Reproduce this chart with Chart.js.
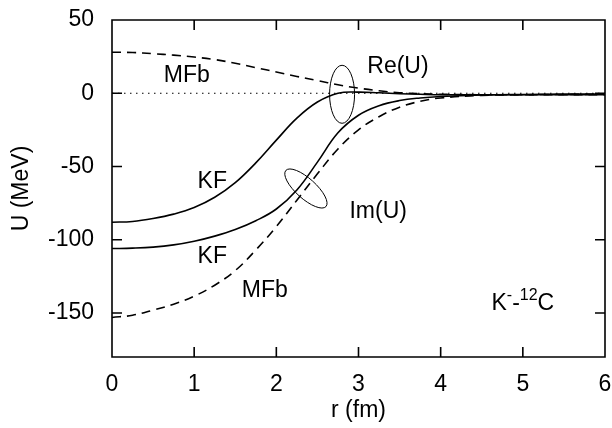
<!DOCTYPE html>
<html>
<head>
<meta charset="utf-8">
<script src="https://cdn.jsdelivr.net/npm/chart.js@4.4.1/dist/chart.umd.min.js"></script>
<style>
  html, body { margin: 0; padding: 0; background: #fff; }
  #wrap { width: 612px; height: 428px; }
</style>
</head>
<body>
<div id="wrap"><canvas id="chart" width="612" height="428"></canvas></div>
<script>
  // radius grid (fm) shared by all curves
  const rValues = [0, 0.25, 0.5, 0.75, 1, 1.25, 1.5, 1.75, 2, 2.25, 2.5, 2.75, 3, 3.25, 3.5, 3.75, 4, 4.5, 5, 5.5, 6];

  // potentials in MeV
  const kfRe = [-88, -87.5, -85.5, -82.5, -78, -71, -61, -47.5, -32, -17, -6, 0, 0.8, 0.3, -0.3, -0.7, -1, -1, -1, -1, -1];
  const kfIm = [-106, -105.7, -105, -103.5, -101, -97.5, -93, -87, -79, -66, -47, -27, -15, -8.5, -5, -3.2, -2.2, -1.2, -0.8, -0.6, -0.5];
  const mfbRe = [28, 27.8, 27, 26, 24.7, 23, 20.5, 17.5, 14.5, 11.5, 8.7, 5.8, 3.5, 1.7, 0.4, -0.3, -0.7, -1, -1, -1, -1];
  const mfbIm = [-153, -151.5, -148, -144, -138.5, -131, -121, -107, -91, -73, -55, -38, -25, -16, -9.5, -5.5, -3.2, -1.5, -1, -0.8, -0.7];

  const zeroR = [0, 6];
  const zeroU = [0, 0];

  const xTicks = [0, 1, 2, 3, 4, 5, 6];
  const yTicks = [-150, -100, -50, 0, 50];

  const FONT = "'Liberation Sans', Arial, Helvetica, sans-serif";

  // text labels placed in data coordinates (r, U)
  const curveLabels = [
    { text: "MFb", r: 0.91, u: 12 },
    { text: "KF", r: 1.22, u: -60.5 },
    { text: "KF", r: 1.22, u: -111.5 },
    { text: "MFb", r: 1.86, u: -135 },
    { text: "Re(U)", r: 3.48, u: 18 },
    { text: "Im(U)", r: 3.24, u: -81 }
  ];

  const rings = [
    { r: 2.8, u: -0.7, rx: 12.5, ry: 29, angle: 0 },
    { r: 2.36, u: -65, rx: 27, ry: 10, angle: 42 }
  ];

  const toPoints = (xs, ys) => xs.map((x, i) => ({ x, y: ys[i] }));

  const framePlugin = {
    id: "framePlugin",
    afterDatasetsDraw(chart) {
      const { ctx, chartArea: a, scales } = chart;
      const x = scales.x;
      const y = scales.y;
      const tick = 10;
      ctx.save();
      ctx.setLineDash([]);
      ctx.globalAlpha = 1;
      ctx.strokeStyle = "#000000";
      ctx.lineWidth = 1.6;
      ctx.beginPath();
      ctx.rect(a.left, a.top, a.right - a.left, a.bottom - a.top);
      xTicks.forEach((v) => {
        const px = x.getPixelForValue(v);
        ctx.moveTo(px, a.bottom);
        ctx.lineTo(px, a.bottom - tick);
        ctx.moveTo(px, a.top);
        ctx.lineTo(px, a.top + tick);
      });
      yTicks.forEach((v) => {
        const py = y.getPixelForValue(v);
        ctx.moveTo(a.left, py);
        ctx.lineTo(a.left + tick, py);
        ctx.moveTo(a.right, py);
        ctx.lineTo(a.right - tick, py);
      });
      ctx.stroke();
      ctx.restore();
    },
    afterDraw(chart) {
      const { ctx, scales } = chart;
      const x = scales.x;
      const y = scales.y;
      ctx.save();
      ctx.setLineDash([]);
      ctx.strokeStyle = "#000";

      // ellipses marking the Re / Im groups
      ctx.lineWidth = 1;
      rings.forEach((e) => {
        ctx.beginPath();
        ctx.ellipse(x.getPixelForValue(e.r), y.getPixelForValue(e.u), e.rx, e.ry, (e.angle * Math.PI) / 180, 0, Math.PI * 2);
        ctx.stroke();
      });

      // curve labels
      ctx.fillStyle = "#000";
      ctx.textAlign = "center";
      ctx.textBaseline = "middle";
      ctx.font = "23px " + FONT;
      curveLabels.forEach((l) => {
        ctx.fillText(l.text, x.getPixelForValue(l.r), y.getPixelForValue(l.u));
      });

      // K^- - ^12 C
      const parts = [
        { t: "K", sup: false },
        { t: "-", sup: true },
        { t: "-", sup: false },
        { t: "12", sup: true },
        { t: "C", sup: false }
      ];
      const big = "23px " + FONT;
      const small = "16px " + FONT;
      let total = 0;
      parts.forEach((p) => {
        ctx.font = p.sup ? small : big;
        p.w = ctx.measureText(p.t).width;
        total += p.w;
      });
      let cx = x.getPixelForValue(5.0) - total / 2;
      const base = y.getPixelForValue(-142) + 9;
      ctx.textAlign = "left";
      ctx.textBaseline = "alphabetic";
      parts.forEach((p) => {
        ctx.font = p.sup ? small : big;
        ctx.fillText(p.t, cx, p.sup ? base - 10 : base);
        cx += p.w;
      });
      ctx.restore();
    }
  };

  const lineStyle = (dash) => ({
    borderColor: "#000",
    borderWidth: 1.6,
    borderDash: dash,
    pointRadius: 0,
    fill: false,
    tension: 0.4
  });

  const noPad = (scale) => {
    scale.paddingTop = 0;
    scale.paddingBottom = 0;
    scale.paddingLeft = 0;
    scale.paddingRight = 0;
  };

  new Chart(document.getElementById("chart"), {
    type: "line",
    data: {
      datasets: [
        { label: "zero", data: toPoints(zeroR, zeroU), borderColor: "#000", borderWidth: 1, borderDash: [1.5, 4.5], pointRadius: 0 },
        { label: "KF Re", data: toPoints(rValues, kfRe), ...lineStyle([]) },
        { label: "KF Im", data: toPoints(rValues, kfIm), ...lineStyle([]) },
        { label: "MFb Re", data: toPoints(rValues, mfbRe), ...lineStyle([9, 6]) },
        { label: "MFb Im", data: toPoints(rValues, mfbIm), ...lineStyle([9, 6]) }
      ]
    },
    options: {
      responsive: false,
      animation: false,
      layout: { autoPadding: false, padding: { left: 0, top: 20, right: 7, bottom: 0 } },
      plugins: { legend: { display: false }, tooltip: { enabled: false } },
      scales: {
        x: {
          type: "linear",
          min: 0,
          max: 6,
          afterBuildTicks(scale) { scale.ticks = xTicks.map((v) => ({ value: v })); },
          afterFit(scale) { scale.height = 71; noPad(scale); },
          grid: { display: false, drawTicks: false },
          border: { display: false },
          ticks: { color: "#000", font: { family: FONT, size: 23 }, padding: 14 },
          title: { display: true, text: "r (fm)", color: "#000", font: { family: FONT, size: 23 }, padding: { top: 0, bottom: 4 } }
        },
        y: {
          type: "linear",
          min: -180,
          max: 50,
          afterBuildTicks(scale) { scale.ticks = yTicks.map((v) => ({ value: v })); },
          afterFit(scale) { scale.width = 112; noPad(scale); },
          grid: { display: false, drawTicks: false },
          border: { display: false },
          ticks: { color: "#000", font: { family: FONT, size: 23 }, padding: 18 },
          title: { display: true, text: "U (MeV)", color: "#000", font: { family: FONT, size: 23 }, padding: { top: 8, bottom: 0 } }
        }
      }
    },
    plugins: [framePlugin]
  });
</script>
</body>
</html>
